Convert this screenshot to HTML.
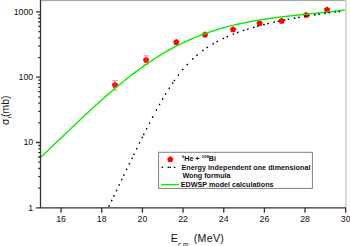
<!DOCTYPE html>
<html><head><meta charset="utf-8"><style>
html,body{margin:0;padding:0;background:#fff;}
body{width:350px;height:246px;overflow:hidden;position:relative;}
svg{position:absolute;left:0;top:0;}
text{font-family:"Liberation Sans",sans-serif;}
</style></head><body>
<svg width="350" height="246" viewBox="0 0 350 246">
<rect x="0" y="0" width="350" height="246" fill="#fff"/>
<rect x="40" y="0" width="306" height="1" fill="#aaa"/>
<rect x="40" y="1" width="306" height="1" fill="#f2f2f2"/>
<rect x="344.9" y="0" width="2.2" height="208" fill="#dcdcdc"/>
<g fill="#ff0000" stroke="none"><polygon points="115.00,81.77 118.19,84.08 116.97,87.83 113.03,87.83 111.81,84.08"/><polygon points="146.10,56.57 149.29,58.88 148.07,62.63 144.13,62.63 142.91,58.88"/><polygon points="176.30,38.87 179.49,41.18 178.27,44.93 174.33,44.93 173.11,41.18"/><polygon points="205.00,31.37 208.19,33.68 206.97,37.43 203.03,37.43 201.81,33.68"/><polygon points="233.00,26.27 236.19,28.58 234.97,32.33 231.03,32.33 229.81,28.58"/><polygon points="259.60,19.97 262.79,22.28 261.57,26.03 257.63,26.03 256.41,22.28"/><polygon points="281.60,17.67 284.79,19.98 283.57,23.73 279.63,23.73 278.41,19.98"/><polygon points="306.20,11.67 309.39,13.98 308.17,17.73 304.23,17.73 303.01,13.98"/><polygon points="327.00,6.47 330.19,8.78 328.97,12.53 325.03,12.53 323.81,8.78"/></g>
<g fill="none" stroke="#ff6060" stroke-width="0.6"><path d="M115,80.5 V90.3 M112.3,80.5 H117.7 M112.3,90.3 H117.7"/><path d="M146.1,55.7 V64.5 M143.4,55.7 H148.79999999999998 M143.4,64.5 H148.79999999999998"/></g>
<path d="M40.70,157.29 L41.70,156.35 L42.70,155.41 L43.70,154.47 L44.70,153.53 L45.70,152.58 L46.70,151.64 L47.70,150.69 L48.70,149.74 L49.70,148.79 L50.70,147.84 L51.70,146.89 L52.70,145.94 L53.70,144.99 L54.70,144.03 L55.70,143.08 L56.70,142.12 L57.70,141.17 L58.70,140.21 L59.70,139.25 L60.70,138.30 L61.70,137.34 L62.70,136.39 L63.70,135.43 L64.70,134.47 L65.70,133.52 L66.70,132.56 L67.70,131.61 L68.70,130.65 L69.70,129.70 L70.70,128.74 L71.70,127.79 L72.70,126.84 L73.70,125.89 L74.70,124.94 L75.70,123.99 L76.70,123.04 L77.70,122.09 L78.70,121.14 L79.70,120.20 L80.70,119.26 L81.70,118.32 L82.70,117.38 L83.70,116.44 L84.70,115.50 L85.70,114.57 L86.70,113.63 L87.70,112.70 L88.70,111.78 L89.70,110.85 L90.70,109.93 L91.70,109.00 L92.70,108.09 L93.70,107.17 L94.70,106.25 L95.70,105.34 L96.70,104.43 L97.70,103.53 L98.70,102.63 L99.70,101.73 L100.70,100.83 L101.70,99.94 L102.70,99.05 L103.70,98.16 L104.70,97.28 L105.70,96.40 L106.70,95.52 L107.70,94.65 L108.70,93.78 L109.70,92.91 L110.70,92.05 L111.70,91.19 L112.70,90.34 L113.70,89.49 L114.70,88.65 L115.70,87.81 L116.70,86.97 L117.70,86.14 L118.70,85.31 L119.70,84.49 L120.70,83.67 L121.70,82.85 L122.70,82.04 L123.70,81.23 L124.70,80.43 L125.70,79.63 L126.70,78.84 L127.70,78.05 L128.70,77.27 L129.70,76.49 L130.70,75.72 L131.70,74.95 L132.70,74.18 L133.70,73.42 L134.70,72.67 L135.70,71.92 L136.70,71.17 L137.70,70.43 L138.70,69.70 L139.70,68.97 L140.70,68.24 L141.70,67.53 L142.70,66.81 L143.70,66.10 L144.70,65.40 L145.70,64.70 L146.70,64.01 L147.70,63.32 L148.70,62.64 L149.70,61.96 L150.70,61.29 L151.70,60.62 L152.70,59.96 L153.70,59.31 L154.70,58.66 L155.70,58.02 L156.70,57.38 L157.70,56.75 L158.70,56.12 L159.70,55.51 L160.70,54.89 L161.70,54.28 L162.70,53.68 L163.70,53.09 L164.70,52.50 L165.70,51.91 L166.70,51.34 L167.70,50.77 L168.70,50.20 L169.70,49.64 L170.70,49.09 L171.70,48.54 L172.70,48.00 L173.70,47.47 L174.70,46.94 L175.70,46.42 L176.70,45.91 L177.70,45.40 L178.70,44.90 L179.70,44.40 L180.70,43.91 L181.70,43.42 L182.70,42.94 L183.70,42.47 L184.70,42.00 L185.70,41.54 L186.70,41.08 L187.70,40.63 L188.70,40.19 L189.70,39.75 L190.70,39.31 L191.70,38.88 L192.70,38.46 L193.70,38.04 L194.70,37.63 L195.70,37.22 L196.70,36.82 L197.70,36.42 L198.70,36.03 L199.70,35.64 L200.70,35.26 L201.70,34.88 L202.70,34.51 L203.70,34.14 L204.70,33.78 L205.70,33.42 L206.70,33.07 L207.70,32.72 L208.70,32.38 L209.70,32.04 L210.70,31.70 L211.70,31.37 L212.70,31.05 L213.70,30.73 L214.70,30.41 L215.70,30.10 L216.70,29.79 L217.70,29.49 L218.70,29.19 L219.70,28.89 L220.70,28.60 L221.70,28.31 L222.70,28.03 L223.70,27.75 L224.70,27.48 L225.70,27.20 L226.70,26.94 L227.70,26.67 L228.70,26.41 L229.70,26.16 L230.70,25.91 L231.70,25.66 L232.70,25.41 L233.70,25.17 L234.70,24.93 L235.70,24.70 L236.70,24.47 L237.70,24.24 L238.70,24.01 L239.70,23.79 L240.70,23.58 L241.70,23.36 L242.70,23.15 L243.70,22.94 L244.70,22.74 L245.70,22.53 L246.70,22.33 L247.70,22.14 L248.70,21.94 L249.70,21.75 L250.70,21.57 L251.70,21.38 L252.70,21.20 L253.70,21.02 L254.70,20.84 L255.70,20.67 L256.70,20.50 L257.70,20.33 L258.70,20.16 L259.70,19.99 L260.70,19.83 L261.70,19.67 L262.70,19.51 L263.70,19.36 L264.70,19.20 L265.70,19.05 L266.70,18.90 L267.70,18.76 L268.70,18.61 L269.70,18.47 L270.70,18.33 L271.70,18.19 L272.70,18.05 L273.70,17.92 L274.70,17.78 L275.70,17.65 L276.70,17.52 L277.70,17.39 L278.70,17.26 L279.70,17.14 L280.70,17.01 L281.70,16.89 L282.70,16.77 L283.70,16.65 L284.70,16.53 L285.70,16.41 L286.70,16.29 L287.70,16.18 L288.70,16.06 L289.70,15.95 L290.70,15.84 L291.70,15.73 L292.70,15.62 L293.70,15.51 L294.70,15.40 L295.70,15.29 L296.70,15.18 L297.70,15.08 L298.70,14.97 L299.70,14.87 L300.70,14.76 L301.70,14.66 L302.70,14.55 L303.70,14.45 L304.70,14.35 L305.70,14.25 L306.70,14.14 L307.70,14.04 L308.70,13.94 L309.70,13.84 L310.70,13.74 L311.70,13.64 L312.70,13.54 L313.70,13.44 L314.70,13.34 L315.70,13.23 L316.70,13.13 L317.70,13.03 L318.70,12.93 L319.70,12.83 L320.70,12.73 L321.70,12.62 L322.70,12.52 L323.70,12.42 L324.70,12.31 L325.70,12.21 L326.70,12.10 L327.70,12.00 L328.70,11.89 L329.70,11.79 L330.70,11.68 L331.70,11.57 L332.70,11.46 L333.70,11.35 L334.70,11.24 L335.70,11.13 L336.70,11.01 L337.70,10.90 L338.70,10.78 L339.70,10.67 L340.70,10.55 L341.70,10.43 L342.70,10.31 L343.70,10.19 L344.70,10.07" fill="none" stroke="#00f000" stroke-width="1.4"/>
<path d="M108.78,206.72L109.46,205.27M111.34,201.35L112.02,199.91M113.60,196.62L114.28,195.17M116.13,191.30L116.83,189.86M118.83,185.66L119.53,184.21M121.41,180.27L122.11,178.83M123.57,175.77L124.27,174.33M126.33,170.04L127.03,168.60M129.05,164.40L129.75,162.96M131.71,158.91L132.41,157.47M133.59,155.05L134.29,153.61M136.35,149.40L137.05,147.97M139.19,143.63L139.89,142.20M141.86,138.23L142.58,136.80M143.42,135.11L144.14,133.68M146.26,129.49L146.98,128.06M149.19,123.75L149.93,122.33M152.29,117.81L153.03,116.39M156.08,110.71L156.84,109.30M159.09,105.24L159.87,103.84M162.30,99.59L163.10,98.21M165.19,94.70L166.01,93.34M168.75,88.94L169.61,87.59M172.25,83.60L173.15,82.27M173.88,81.22L174.80,79.91M177.95,75.60L178.93,74.33M182.28,70.13L183.32,68.91M186.71,65.07L187.81,63.90M192.24,59.46L193.40,58.37M196.45,55.66L197.67,54.63M202.24,51.04L203.52,50.09M206.57,47.96L207.91,47.08M212.55,44.20L213.93,43.39M216.53,41.94L217.95,41.19M222.62,38.84L224.06,38.16M226.57,37.02L228.03,36.38M232.68,34.45L234.16,33.86M236.95,32.80L238.45,32.25M242.86,30.71L244.38,30.21M247.06,29.34L248.58,28.87M253.05,27.53L254.59,27.08M257.09,26.39L258.63,25.97M263.20,24.77L264.76,24.38M267.34,23.75L268.90,23.38M273.42,22.34L274.98,21.99M277.68,21.41L279.24,21.07M283.78,20.15L285.34,19.84M287.69,19.38L289.27,19.08M293.83,18.24L295.41,17.96M298.13,17.48L299.71,17.21M304.47,16.42L306.05,16.16M308.09,15.84L309.67,15.59M313.99,14.94L315.57,14.70M318.25,14.31L319.83,14.09M324.25,13.47L325.83,13.25M328.51,12.90L330.09,12.69M334.49,12.13L336.07,11.93M338.47,11.63L340.05,11.44" fill="none" stroke="#000" stroke-width="1.4"/>
<g fill="none" stroke="#333" stroke-width="1.3">
<path d="M40.5,0 V207.8 H346.0"/>
<path d="M61.10,207.8 V212.8 M101.76,207.8 V212.8 M142.42,207.8 V212.8 M183.08,207.8 V212.8 M223.74,207.8 V212.8 M264.40,207.8 V212.8 M305.06,207.8 V212.8 M345.72,207.8 V212.8 M36.0,207.80 H40.5 M38.2,188.14 H40.5 M38.2,176.64 H40.5 M38.2,168.49 H40.5 M38.2,162.16 H40.5 M38.2,156.99 H40.5 M38.2,152.62 H40.5 M38.2,148.83 H40.5 M38.2,145.49 H40.5 M36.0,142.50 H40.5 M38.2,122.84 H40.5 M38.2,111.34 H40.5 M38.2,103.19 H40.5 M38.2,96.86 H40.5 M38.2,91.69 H40.5 M38.2,87.32 H40.5 M38.2,83.53 H40.5 M38.2,80.19 H40.5 M36.0,77.20 H40.5 M38.2,57.54 H40.5 M38.2,46.04 H40.5 M38.2,37.89 H40.5 M38.2,31.56 H40.5 M38.2,26.39 H40.5 M38.2,22.02 H40.5 M38.2,18.23 H40.5 M38.2,14.89 H40.5 M36.0,11.90 H40.5 "/>
</g>
<g font-size="8.8" fill="#111"><text transform="translate(61.10,221.6) scale(1,1.07)" text-anchor="middle">16</text><text transform="translate(101.76,221.6) scale(1,1.07)" text-anchor="middle">18</text><text transform="translate(142.42,221.6) scale(1,1.07)" text-anchor="middle">20</text><text transform="translate(183.08,221.6) scale(1,1.07)" text-anchor="middle">22</text><text transform="translate(223.74,221.6) scale(1,1.07)" text-anchor="middle">24</text><text transform="translate(264.40,221.6) scale(1,1.07)" text-anchor="middle">26</text><text transform="translate(305.06,221.6) scale(1,1.07)" text-anchor="middle">28</text><text transform="translate(345.72,221.6) scale(1,1.07)" text-anchor="middle">30</text><text transform="translate(33.2,210.75) scale(1,1.07)" text-anchor="end">1</text><text transform="translate(33.2,145.45) scale(1,1.07)" text-anchor="end">10</text><text transform="translate(33.2,80.15) scale(1,1.07)" text-anchor="end">100</text><text transform="translate(33.2,14.85) scale(1,1.07)" text-anchor="end">1000</text></g>
<text transform="translate(8.9,125.0) rotate(-90)" font-size="10.4" fill="#111">σ<tspan font-size="6" dy="3.4">f</tspan><tspan dy="-3.4">(mb)</tspan></text>
<text x="170.8" y="241.8" font-size="10.6" fill="#111">E<tspan font-size="6.7" dy="5.4">c.m.</tspan><tspan dy="-5.4" letter-spacing="0.3"> (MeV)</tspan></text>
<!-- legend -->
<rect x="158.6" y="152.3" width="153.8" height="36.1" fill="#fff" stroke="#808080" stroke-width="1"/>
<polygon fill="#ff0000" points="170.30,156.12 173.44,158.40 172.24,162.08 168.36,162.08 167.16,158.40"/>
<g fill="#000"><rect x="161.6" y="166.7" width="1.5" height="1.3"/><rect x="167.6" y="166.7" width="1.5" height="1.3"/><rect x="169.5" y="166.7" width="1.5" height="1.3"/><rect x="173.8" y="166.7" width="1.5" height="1.3"/></g>
<path d="M161.3,184.6 H178.9" stroke="#00ee00" stroke-width="1.4"/>
<g font-size="7.2" font-weight="bold" fill="#111">
<text y="161.4"><tspan x="182.0" y="158.0" font-size="4.2">6</tspan><tspan x="184.2" y="161.4">He +</tspan><tspan x="201.8" y="158.2" font-size="4.2">209</tspan><tspan x="208.7" y="161.4">Bi</tspan></text>
<text x="181.4" y="169.5" letter-spacing="0.04">Energy independent one dimensional</text>
<text x="182.4" y="178.1">Wong formula</text>
<text x="180.7" y="186.6">EDWSP model calculations</text>
</g>
</svg>
</body></html>
